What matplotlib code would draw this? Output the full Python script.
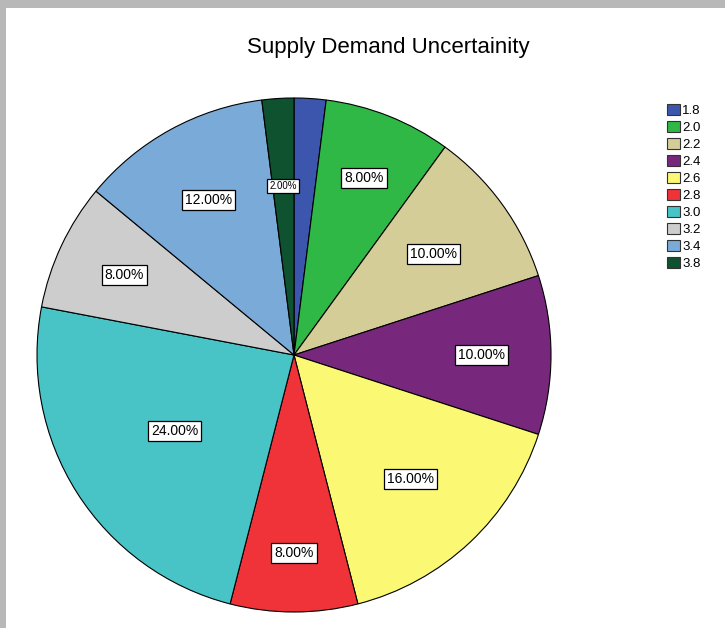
import numpy as np
import matplotlib.pyplot as plt
from matplotlib.patches import Rectangle

plt.rcParams['font.family'] = ['Liberation Sans', 'DejaVu Sans']

categories = ['1.8', '2.0', '2.2', '2.4', '2.6', '2.8', '3.0', '3.2', '3.4', '3.8']
percents = [2, 8, 10, 10, 16, 8, 24, 8, 12, 2]
colors = ['#3c56ad', '#2fb845', '#d5cd98', '#77287d', '#fbf874', '#ef3339',
          '#48c3c6', '#cdcdcd', '#7aaad8', '#0e5230']
# radial position of each percent label (fraction of radius); None = hidden (overlap)
label_r = [None, 0.74, 0.67, 0.73, 0.66, 0.77, 0.55, 0.73, 0.69, 0.66]

fig = plt.figure(figsize=(7.25, 6.28), dpi=100)
W, H = 725, 628

# grey screenshot frame on top and left
fig.patches.append(Rectangle((0, 1 - 8 / H), 1, 8 / H, transform=fig.transFigure,
                             facecolor='#b8b8b8', edgecolor='none'))
fig.patches.append(Rectangle((0, 0), 6 / W, 1, transform=fig.transFigure,
                             facecolor='#b8b8b8', edgecolor='none'))

cx, cy, R = 294, 355, 257
ax = fig.add_axes([(cx - R) / W, 1 - (cy + R) / H, 2 * R / W, 2 * R / H])
wedges, _ = ax.pie(percents, colors=colors, startangle=90, counterclock=False,
                   wedgeprops=dict(edgecolor='black', linewidth=0.8))
ax.set_xlim(-1, 1)
ax.set_ylim(-1, 1)
ax.set_aspect('equal')

cum = np.cumsum([0] + percents)
for i, p in enumerate(percents):
    if label_r[i] is None:
        continue
    mid = (cum[i] + cum[i + 1]) / 2 / 100 * 2 * np.pi
    x = label_r[i] * np.sin(mid)
    y = label_r[i] * np.cos(mid)
    fs = 7 if p == 2 else 10
    ax.text(x, y, f'{p:.2f}%', ha='center', va='center', fontsize=fs,
            bbox=dict(boxstyle='square,pad=0.22', facecolor='white',
                      edgecolor='black', linewidth=0.9))

fig.text(388 / W, 1 - 48 / H, 'Supply Demand Uncertainity', ha='center', va='center',
         fontsize=16)

handles = [Rectangle((0, 0), 1, 1, facecolor=c, edgecolor='#333333', linewidth=0.8)
           for c in colors]
fig.legend(handles, categories, loc='upper left', bbox_to_anchor=(660 / W, 1 - 97 / H),
           frameon=False, fontsize=9.5, handlelength=1.0, handleheight=0.95,
           handletextpad=0.18, labelspacing=0.29, borderpad=0)

fig.savefig('out.png', dpi=100)
